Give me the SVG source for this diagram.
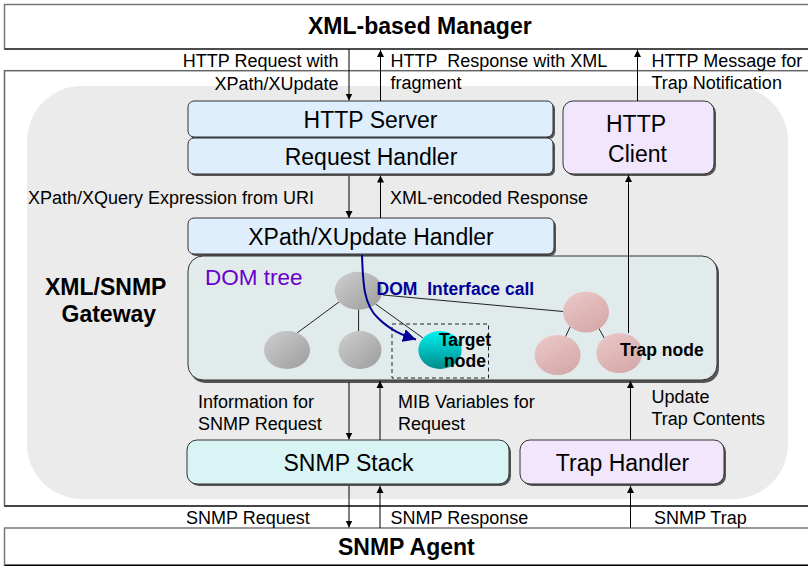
<svg xmlns="http://www.w3.org/2000/svg" width="808" height="567" viewBox="0 0 808 567">
<defs>
<style>
text{font-family:"Liberation Sans",Arial,sans-serif;fill:#000}
.lbl{font-size:18px;white-space:pre}
.box{font-size:23px;text-anchor:middle}
.big{font-size:23px;font-weight:bold}
.bold{font-size:17.5px;font-weight:bold}
.shadow{fill:#555}
.node{stroke:#333;stroke-width:1}
.line{stroke:#000;stroke-width:1;fill:none}
.edge{stroke:#222;stroke-width:1}
</style>
<marker id="ah" viewBox="0 0 10 10" refX="10" refY="5" markerWidth="7" markerHeight="8" orient="auto" markerUnits="userSpaceOnUse">
<path d="M0,0 L10,5 L0,10 Z" fill="#000"/>
</marker>
<marker id="bh" viewBox="0 0 10 10" refX="10" refY="5" markerWidth="13" markerHeight="13" orient="auto" markerUnits="userSpaceOnUse">
<path d="M0,0 L10,5 L0,10 Z" fill="#000099"/>
</marker>
<linearGradient id="gGray" x1="0" y1="0" x2="1" y2="1">
<stop offset="0" stop-color="#cfcfcf"/><stop offset="1" stop-color="#9c9c9c"/>
</linearGradient>
<linearGradient id="gPink" x1="0" y1="0" x2="0.6" y2="1">
<stop offset="0" stop-color="#ecc9c9"/><stop offset="1" stop-color="#d6aaaa"/>
</linearGradient>
<linearGradient id="gCyan" x1="0" y1="0" x2="0" y2="1">
<stop offset="0" stop-color="#00f2f2"/><stop offset="1" stop-color="#008a8a"/>
</linearGradient>
</defs>

<g id="manager">
<rect x="4.5" y="4.5" width="812" height="44.5" fill="#fff" stroke="#777" stroke-width="1.5"/>
<line x1="4.5" y1="49" x2="808" y2="49" stroke="#000" stroke-width="1.2"/>
<text class="big" x="308" y="34">XML-based Manager</text>
</g>

<g id="gateway">
<rect x="4.5" y="70.7" width="812" height="435.3" fill="#fff" stroke="#666" stroke-width="1.5"/>
<line x1="4.5" y1="506" x2="808" y2="506" stroke="#000" stroke-width="1.2"/>
<rect x="27" y="86" width="761" height="413" rx="55" ry="55" fill="#ebebeb"/>
<text class="big" x="45" y="295">XML/SNMP</text>
<text class="big" x="61.5" y="322">Gateway</text>
</g>

<g id="agent">
<rect x="4.5" y="528" width="812" height="37" fill="#fff" stroke="#777" stroke-width="1.5"/>
<line x1="4.5" y1="565.3" x2="808" y2="565.3" stroke="#000" stroke-width="1.2"/>
<text class="big" x="338" y="555">SNMP Agent</text>
</g>

<g id="http-server">
<rect class="shadow" x="190" y="103" width="365" height="36" rx="6"/>
<rect class="node" x="188" y="101" width="365" height="36" rx="6" fill="#dfeefc"/>
<text class="box" x="370.5" y="128">HTTP Server</text>
</g>

<g id="request-handler">
<rect class="shadow" x="190" y="140" width="365" height="36" rx="6"/>
<rect class="node" x="188" y="138" width="365" height="36" rx="6" fill="#dfeefc"/>
<text class="box" x="371" y="165">Request Handler</text>
</g>

<g id="http-client">
<rect class="shadow" x="565" y="103" width="151" height="73" rx="10"/>
<rect class="node" x="563" y="101" width="151" height="73" rx="10" fill="#f1e6fc"/>
<text class="box" x="636" y="131.5">HTTP</text>
<text class="box" x="637.5" y="161.5">Client</text>
</g>

<g id="xpath-handler">
<rect class="shadow" x="190" y="220" width="366" height="36" rx="6"/>
<rect class="node" x="188" y="218" width="366" height="36" rx="6" fill="#dfeefc"/>
<text class="box" x="371" y="245">XPath/XUpdate Handler</text>
</g>

<g id="dom-tree">
<rect class="shadow" x="190" y="258" width="529" height="125" rx="15"/>
<rect class="node" x="188" y="256" width="529" height="124" rx="15" fill="#e1ebec"/>
<text x="205" y="285" style="font-size:22.5px;fill:#6a00cc">DOM tree</text>
<g class="edges">
<line class="edge" x1="297" y1="333" x2="339" y2="302"/>
<line class="edge" x1="358.6" y1="309" x2="358.6" y2="332"/>
<line class="edge" x1="375.5" y1="304" x2="423" y2="338"/>
<line class="edge" x1="383" y1="295" x2="563" y2="311.5"/>
<line class="edge" x1="571" y1="325" x2="563" y2="342"/>
<line class="edge" x1="597" y1="325" x2="607" y2="343"/>
</g>
<ellipse cx="358.6" cy="290.7" rx="24" ry="19" fill="url(#gGray)"/>
<ellipse cx="287" cy="350" rx="23" ry="19" fill="url(#gGray)"/>
<ellipse cx="360" cy="350" rx="21.5" ry="19" fill="url(#gGray)"/>
<ellipse cx="586" cy="312" rx="23" ry="20.5" fill="url(#gPink)"/>
<ellipse cx="557.6" cy="355" rx="23" ry="20" fill="url(#gPink)"/>
<ellipse cx="619.3" cy="353" rx="23" ry="20" fill="url(#gPink)"/>
</g>

<g id="target-node">
<ellipse cx="440" cy="350" rx="21.7" ry="19" fill="url(#gCyan)"/>
<rect x="392" y="324" width="96.5" height="54" fill="none" stroke="#222" stroke-width="1" stroke-dasharray="4,3"/>
<text class="bold" x="465" y="346" text-anchor="middle">Target</text>
<text class="bold" x="465" y="367" text-anchor="middle">node</text>
</g>

<g id="trap-node">
<text class="bold" x="620" y="356">Trap node</text>
</g>

<g id="snmp-stack">
<rect class="shadow" x="189" y="442" width="322" height="44" rx="10"/>
<rect class="node" x="187" y="440" width="322" height="44" rx="10" fill="#d9f4f4"/>
<text class="box" x="348.5" y="471">SNMP Stack</text>
</g>

<g id="trap-handler">
<rect class="shadow" x="522" y="442" width="204" height="44" rx="10"/>
<rect class="node" x="520" y="440" width="204" height="44" rx="10" fill="#f1e6fc"/>
<text class="box" x="622.5" y="471">Trap Handler</text>
</g>

<g id="connectors">
<line class="line" x1="349" y1="49" x2="349" y2="100.5" marker-end="url(#ah)"/>
<line class="line" x1="380.5" y1="101" x2="380.5" y2="50" marker-end="url(#ah)"/>
<line class="line" x1="637.5" y1="101" x2="637.5" y2="50" marker-end="url(#ah)"/>
<line class="line" x1="349" y1="176" x2="349" y2="218" marker-end="url(#ah)"/>
<line class="line" x1="380.5" y1="218" x2="380.5" y2="175.5" marker-end="url(#ah)"/>
<line class="line" x1="628.5" y1="333" x2="628.5" y2="175" marker-end="url(#ah)"/>
<line class="line" x1="349" y1="382" x2="349" y2="439.5" marker-end="url(#ah)"/>
<line class="line" x1="380" y1="440" x2="380" y2="381" marker-end="url(#ah)"/>
<line class="line" x1="630.5" y1="440" x2="630.5" y2="381" marker-end="url(#ah)"/>
<line class="line" x1="349" y1="486" x2="349" y2="527.5" marker-end="url(#ah)"/>
<line class="line" x1="380" y1="528" x2="380" y2="486" marker-end="url(#ah)"/>
<line class="line" x1="630.5" y1="528" x2="630.5" y2="486" marker-end="url(#ah)"/>
<path d="M362,255 C363,285 364,305 378,318 C390,330 402,335 416,339.5" fill="none" stroke="#000099" stroke-width="2" marker-end="url(#bh)"/>
<text class="bold" x="376.6" y="294.8" style="fill:#000099;white-space:pre;font-size:17.5px">DOM  Interface call</text>
</g>

<g id="labels">
<text class="lbl" x="338.5" y="67" text-anchor="end">HTTP Request with</text>
<text class="lbl" x="338.5" y="90" text-anchor="end">XPath/XUpdate</text>
<text class="lbl" x="390.5" y="67">HTTP  Response with XML</text>
<text class="lbl" x="390.5" y="89">fragment</text>
<text class="lbl" x="651.5" y="67">HTTP Message for</text>
<text class="lbl" x="651.5" y="89">Trap Notification</text>
<text class="lbl" x="28" y="204">XPath/XQuery Expression from URI</text>
<text class="lbl" x="390" y="204">XML-encoded Response</text>
<text class="lbl" x="198" y="408">Information for</text>
<text class="lbl" x="198" y="430">SNMP Request</text>
<text class="lbl" x="398" y="408">MIB Variables for</text>
<text class="lbl" x="398" y="430">Request</text>
<text class="lbl" x="651.5" y="403">Update</text>
<text class="lbl" x="651.5" y="425">Trap Contents</text>
<text class="lbl" x="186" y="524">SNMP Request</text>
<text class="lbl" x="390.5" y="524">SNMP Response</text>
<text class="lbl" x="654" y="524">SNMP Trap</text>
</g>
</svg>
